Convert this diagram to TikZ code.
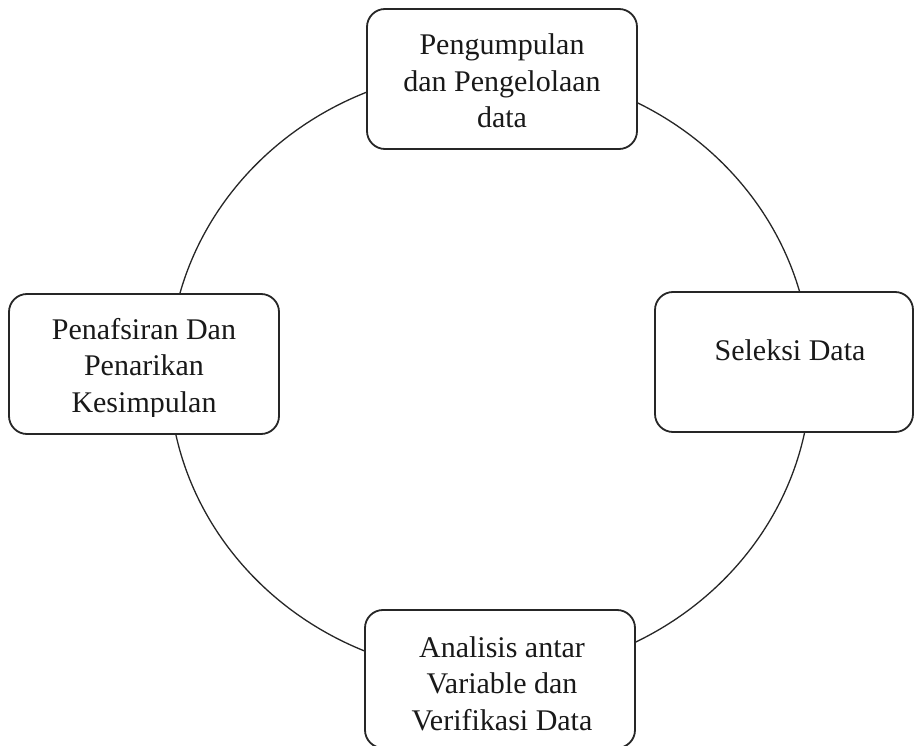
\documentclass[tikz,border=0pt]{standalone}
\usepackage{fontspec}
\setmainfont{Liberation Serif}
\begin{document}
\begin{tikzpicture}[x=1pt,y=-1pt,
  stagebox/.style={draw=black!85, line width=1.8pt, rounded corners=18pt, fill=white,
    inner sep=0pt, minimum width=#1},
  stagebox/.default=270pt,
  lbl/.style={align=center, inner sep=0pt, anchor=base,
    font=\fontsize{30}{36.5}\selectfont, text=black!90},
  ring/.style={draw=black!85, line width=1.3pt}]
\clip (0,0) rectangle (914,746);
\useasboundingbox (0,0) rectangle (914,746);
\fill[white] (0,0) rectangle (914,746);
% cycle ring
\draw[ring] (490,372) ellipse [x radius=321pt, y radius=303pt];
% boxes
\node[stagebox, minimum height=140pt] (pengumpulan) at (502,79) {};
\node[stagebox=258pt, minimum height=140pt] (seleksi) at (784,362) {};
\node[stagebox, minimum height=140pt] (penafsiran) at (144,364) {};
\node[stagebox, minimum height=138pt] (analisis) at (500,679) {};
% labels (anchored at the baseline of the last line)
\node[lbl] (t1) at (502,128) {Pengumpulan\\dan Pengelolaan\\data};
\node[lbl] (t2) at (790,360) {Seleksi Data};
\begin{scope}
\clip (0,0) rectangle (914,416);
\node[lbl] (t3) at (144,412) {Penafsiran Dan\\Penarikan\\Kesimpulan};
\end{scope}
\node[lbl] (t4) at (502,730) {Analisis antar\\Variable dan\\Verifikasi Data};
\end{tikzpicture}
\end{document}
